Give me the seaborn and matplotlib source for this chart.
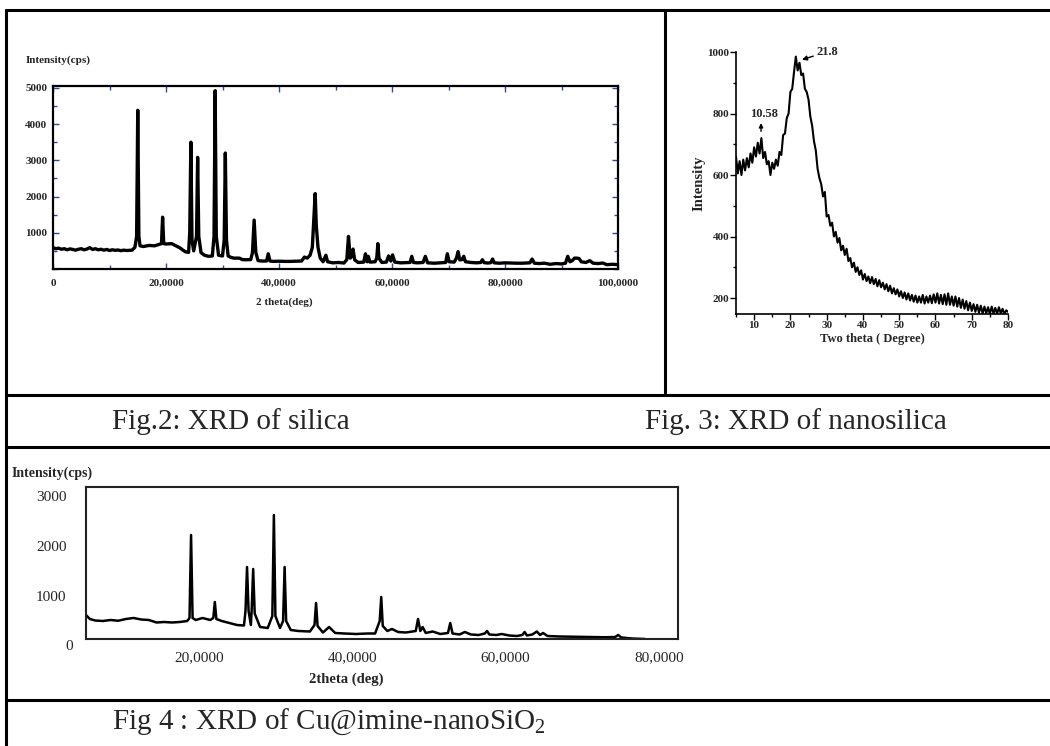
import numpy as np
import pandas as pd
import matplotlib
matplotlib.use("Agg")
import matplotlib.pyplot as plt
from matplotlib.lines import Line2D
from matplotlib.ticker import MultipleLocator, FixedLocator
import seaborn as sns

# Fig.2 - XRD of silica (2theta in deg, intensity in cps)
silica_2theta = [0, 0.5, 1, 1.5, 2, 2.5, 3, 3.5, 4, 4.5, 5, 5.5, 6, 6.5, 7, 7.5, 8, 8.5, 9, 9.5,
                 10, 10.5, 11, 11.5, 12, 12.5, 13, 13.5, 14, 14.5, 14.8, 15.0, 15.2, 15.4,
                 16, 17, 18, 18.8, 19.2, 19.4, 19.6, 20, 21, 21.5, 22, 22.5, 23, 23.5, 24.0,
                 24.2, 24.4, 24.6, 24.9, 25.4, 25.6, 25.8, 26.2, 26.8, 27.5, 28.2, 28.5, 28.7,
                 28.9, 29.3, 30.0, 30.3, 30.5, 30.7, 31.0, 31.5, 32, 33, 33.5, 34, 35.0, 35.3,
                 35.6, 35.9, 36.3, 37, 37.8, 38.1, 38.4, 39, 40, 41, 42, 43, 44, 44.5, 45, 45.5,
                 45.9, 46.2, 46.4, 46.6, 46.9, 47.3, 47.8, 48.3, 48.6, 49.5, 50.5, 51.5, 52.0,
                 52.3, 52.6, 52.9, 53.1, 53.4, 54, 55, 55.3, 55.6, 55.8, 56.1, 57.0, 57.3, 57.5,
                 57.7, 58.2, 59.0, 59.4, 59.8, 60.1, 60.5, 61.5, 62.5, 63.2, 63.5, 63.8, 64.5,
                 65.5, 65.9, 66.3, 67.5, 68.5, 69.5, 69.8, 70.1, 71, 71.4, 71.7, 72.0, 72.4,
                 72.7, 73.0, 74, 75, 75.7, 76.0, 76.3, 77, 77.5, 77.8, 78.1, 79, 80, 81, 82, 83,
                 84.4, 84.8, 85.2, 86, 87, 88, 89, 90, 90.7, 91.1, 91.5, 91.9, 92.3, 92.7, 93.1,
                 93.5, 94.3, 95.0, 95.6, 96.5, 97.3, 98, 99, 100]
silica_cps = [590, 560, 575, 545, 560, 530, 555, 540, 520, 545, 560, 530, 550, 590, 540, 560, 530, 545, 520, 540,
              510, 530, 515, 525, 505, 520, 510, 515, 520, 600, 900, 4380, 900, 640,
              620, 650, 640, 680, 700, 1430, 700, 690, 700, 660, 620, 580, 520, 470, 460,
              1000, 3500, 800, 500, 900, 3080, 900, 450, 380, 350, 360, 900, 4920,
              900, 380, 360, 800, 3200, 800, 360, 320, 300, 300, 260, 255, 260, 450,
              1350, 450, 230, 220, 220, 420, 220, 210, 215, 210, 210, 215, 220, 330, 300, 380,
              600, 1500, 2080, 1200, 600, 300, 200, 380, 200, 170, 180, 165, 260,
              900, 300, 350, 550, 250, 180, 190, 420, 200, 350, 190, 200, 300, 700,
              300, 180, 190, 360, 220, 390, 190, 170, 175, 180, 350, 180, 170,
              180, 350, 170, 160, 170, 180, 420, 200, 190, 300, 480, 250, 260,
              350, 200, 180, 170, 180, 256, 175, 165, 175, 275, 170, 160, 170, 165, 160, 160,
              170, 275, 160, 150, 160, 130, 150, 140, 160, 350, 200, 230, 300, 300, 290,
              200, 180, 230, 160, 150, 165, 120, 130, 120]

# Fig.3 - XRD of nanosilica, sampled every 0.5 deg from 5 to 80
nano_2theta = np.arange(5.0, 80.01, 0.5)
nano_intensity = [660, 605, 645, 600, 650, 615, 655, 625, 670, 640, 690, 660, 705, 670, 720, 655,
                  675, 635, 645, 600, 640, 620, 650, 630, 675, 665, 730, 735, 785, 800, 870, 880,
                  935, 985, 940, 965, 925, 930, 880, 870, 845, 790, 760, 710, 680, 620, 590, 570,
                  530, 545, 465, 470, 435, 445, 400, 415, 380, 395, 355, 370, 340, 360, 320, 330,
                  300, 315, 285, 300, 275, 290, 260, 278, 255, 270, 248, 268, 245, 262, 238, 258,
                  235, 250, 228, 245, 222, 240, 215, 232, 212, 228, 205, 222, 200, 218, 195, 215,
                  192, 210, 188, 208, 185, 205, 185, 210, 182, 205, 185, 208, 183, 212, 185, 215,
                  182, 210, 180, 212, 178, 215, 178, 205, 175, 205, 172, 200, 168, 195, 165, 190,
                  160, 185, 158, 180, 155, 178, 152, 175, 150, 172, 150, 170, 148, 172, 150, 168,
                  148, 170, 150, 165, 148, 160, 155]

# Fig.4 - XRD of Cu@imine-nanoSiO2
cu_2theta = [5.3, 5.8, 6.5, 7.5, 8.5, 9.5, 10.5, 11.5, 12.5, 13.5, 14.5, 15.5, 16.5, 17.5, 18.5,
             18.8, 19.0, 19.2, 19.6, 20.5, 21.5, 21.9, 22.1, 22.3, 23.0, 24.0, 25.0, 25.9, 26.1,
             26.3, 26.5, 26.8, 26.9, 27.1, 27.3, 28.0, 29.0, 29.6, 29.8, 30.0, 30.6, 31.0, 31.2,
             31.4, 32.0, 33.0, 34.5, 35.1, 35.3, 35.5, 36.2, 37.0, 37.8, 39.0, 40.5, 42.0, 43.0,
             43.6, 43.8, 44.0, 44.6, 45.2, 46.0, 47.0, 48.3, 48.6, 48.9, 49.2, 49.6, 50.5, 51.5,
             52.5, 52.8, 53.1, 54.0, 54.7, 55.5, 56.5, 57.3, 57.6, 57.9, 58.8, 59.5, 60.5, 61.5,
             62.2, 62.5, 62.8, 63.5, 64.1, 64.5, 64.9, 65.5, 67.0, 69.0, 71.0, 73.0, 74.3, 74.7,
             75.1, 76.5, 78.2]
cu_cps = [620, 540, 510, 500, 520, 505, 540, 560, 530, 520, 470, 480, 470, 480, 500,
          560, 2220, 560, 520, 560, 520, 560, 880, 540, 500, 460, 420, 410, 700,
          1580, 700, 420, 700, 1540, 650, 380, 360, 600, 2620, 600, 360, 500, 1580,
          500, 320, 300, 290, 420, 860, 400, 270, 380, 260, 250, 240, 250, 250,
          500, 980, 400, 300, 340, 280, 270, 300, 540, 300, 380, 260, 290, 240,
          260, 460, 250, 230, 280, 230, 220, 250, 300, 230, 220, 240, 210, 200,
          220, 280, 210, 230, 290, 220, 260, 200, 190, 185, 180, 175, 180, 220,
          170, 150, 140]

W, H = 1050, 746
sns.set_theme(style="white")
plt.rcParams['font.family'] = ['Liberation Serif', 'DejaVu Serif']
plt.rcParams['mathtext.fontset'] = 'custom'
plt.rcParams['mathtext.rm'] = 'Liberation Serif'

fig = plt.figure(figsize=(W / 100, H / 100), dpi=100)
fig.patch.set_facecolor('white')


def box(x0, y0, x1, y1):
    # pixel box (top-left origin) -> figure fraction rect
    return [x0 / W, 1 - y1 / H, (x1 - x0) / W, (y1 - y0) / H]


def hline(y, x0=6, x1=W):
    fig.add_artist(Line2D([x0 / W, x1 / W], [1 - y / H, 1 - y / H], color='black', lw=2.2))


def vline(x, y0, y1):
    fig.add_artist(Line2D([x / W, x / W], [1 - y0 / H, 1 - y1 / H], color='black', lw=2.2))


# table grid
hline(10)
hline(395)
hline(447)
hline(700)
vline(6, 10, H)
vline(665, 10, 395)

# ---- Fig.2 ----
df2 = pd.DataFrame({'two_theta': silica_2theta, 'cps': silica_cps})
ax1 = fig.add_axes(box(53, 86, 618, 269))
sns.lineplot(data=df2, x='two_theta', y='cps', ax=ax1, color='black', lw=2.4,
             estimator=None, sort=False)
ax1.set_xlim(0, 100)
ax1.set_ylim(0, 5050)
ax1.xaxis.set_major_locator(FixedLocator([0, 20, 40, 60, 80, 100]))
ax1.set_xticklabels(['0', '20,0000', '40,0000', '60,0000', '80,0000', '100,0000'])
ax1.yaxis.set_major_locator(FixedLocator([1000, 2000, 3000, 4000, 5000]))
ax1.xaxis.set_minor_locator(MultipleLocator(10))
ax1.yaxis.set_minor_locator(MultipleLocator(500))
ax1.tick_params(which='both', direction='in', top=True, right=True, bottom=True, left=True,
                color='#34489a', width=1)
ax1.tick_params(which='major', length=4)
ax1.tick_params(which='minor', length=3)
ax1.tick_params(axis='y', pad=4)
ax1.tick_params(axis='x', pad=7)
for lab in ax1.get_xticklabels() + ax1.get_yticklabels():
    lab.set_fontsize(8)
    lab.set_fontweight('bold')
for s in ax1.spines.values():
    s.set_color('black')
    s.set_linewidth(1.6)
ax1.set_xlabel('')
ax1.set_ylabel('')
fig.text(26 / W, 1 - 60 / H, 'Intensity(cps)', fontsize=8, fontweight='bold', ha='left', va='center')
fig.text(284 / W, 1 - 302 / H, '2 theta(deg)', fontsize=8, fontweight='bold', ha='center', va='center')

# ---- Fig.3 ----
df3 = pd.DataFrame({'two_theta': nano_2theta, 'intensity': nano_intensity})
ax2 = fig.add_axes(box(736, 52, 1008, 314))
sns.lineplot(data=df3, x='two_theta', y='intensity', ax=ax2, color='black', lw=1.5,
             estimator=None, sort=False)
ax2.set_xlim(5, 80)
ax2.set_ylim(148, 1000)
ax2.xaxis.set_major_locator(MultipleLocator(10))
ax2.xaxis.set_minor_locator(MultipleLocator(5))
ax2.yaxis.set_major_locator(MultipleLocator(200))
ax2.yaxis.set_minor_locator(MultipleLocator(100))
ax2.tick_params(which='both', direction='out', bottom=True, left=True, color='black', width=1)
ax2.tick_params(which='major', length=4, pad=1)
ax2.tick_params(which='minor', length=2.5)
for lab in ax2.get_xticklabels() + ax2.get_yticklabels():
    lab.set_fontsize(8)
    lab.set_fontweight('bold')
ax2.spines['top'].set_visible(False)
ax2.spines['right'].set_visible(False)
for s in ['left', 'bottom']:
    ax2.spines[s].set_color('black')
    ax2.spines[s].set_linewidth(1.2)
ax2.set_xlabel('Two theta ( Degree)', fontsize=9, fontweight='bold', labelpad=2)
ax2.set_ylabel('Intensity', fontsize=10.5, fontweight='bold', labelpad=1)
ax2.annotate('21.8', xy=(23.2, 975), xytext=(27.2, 1001), fontsize=9, fontweight='bold',
             va='center', ha='left', annotation_clip=False,
             arrowprops=dict(arrowstyle='-|>', color='black', lw=1, mutation_scale=7, shrinkA=0, shrinkB=0))
ax2.annotate('', xy=(11.9, 769), xytext=(11.9, 742),
             arrowprops=dict(arrowstyle='-|>', color='black', lw=1, mutation_scale=6, shrinkA=0, shrinkB=0))
ax2.text(12.7, 798, '10.58', fontsize=9, fontweight='bold', ha='center', va='center')

# ---- Fig.4 ----
df4 = pd.DataFrame({'two_theta': cu_2theta, 'cps': cu_cps})
ax3 = fig.add_axes(box(86, 487, 678, 639))
sns.lineplot(data=df4, x='two_theta', y='cps', ax=ax3, color='black', lw=1.8,
             estimator=None, sort=False)
ax3.set_xlim(5.3, 82.5)
ax3.set_ylim(140, 3180)
ax3.xaxis.set_major_locator(FixedLocator([20, 40, 60, 80]))
ax3.set_xticklabels(['20,0000', '40,0000', '60,0000', '80,0000'])
ax3.yaxis.set_major_locator(FixedLocator([1000, 2000, 3000]))
ax3.tick_params(which='both', length=0)
ax3.tick_params(axis='y', pad=14)
ax3.tick_params(axis='x', pad=9)
for lab in ax3.get_xticklabels() + ax3.get_yticklabels():
    lab.set_fontsize(11)
ax3.text(-0.022, 0, '0', transform=ax3.get_yaxis_transform(), fontsize=11,
         ha='right', va='center', clip_on=False)
for s in ax3.spines.values():
    s.set_color('#222222')
    s.set_linewidth(1.5)
ax3.set_xlabel('')
ax3.set_ylabel('')
fig.text(12 / W, 1 - 473 / H, 'Intensity(cps)', fontsize=10, fontweight='bold', ha='left', va='center')
fig.text(346 / W, 1 - 679 / H, '2theta (deg)', fontsize=10.5, fontweight='bold', ha='center', va='center')

# captions
fig.text(112 / W, 1 - 422 / H, 'Fig.2: XRD of silica', fontsize=21, ha='left', va='center')
fig.text(645 / W, 1 - 422 / H, 'Fig. 3: XRD of nanosilica', fontsize=21, ha='left', va='center')
fig.text(112 / W, 1 - 722 / H, r'Fig 4 : XRD of Cu@imine-nanoSiO$_\mathrm{2}$', fontsize=21,
         ha='left', va='center')

fig.savefig('out.png', dpi=100, facecolor='white')
